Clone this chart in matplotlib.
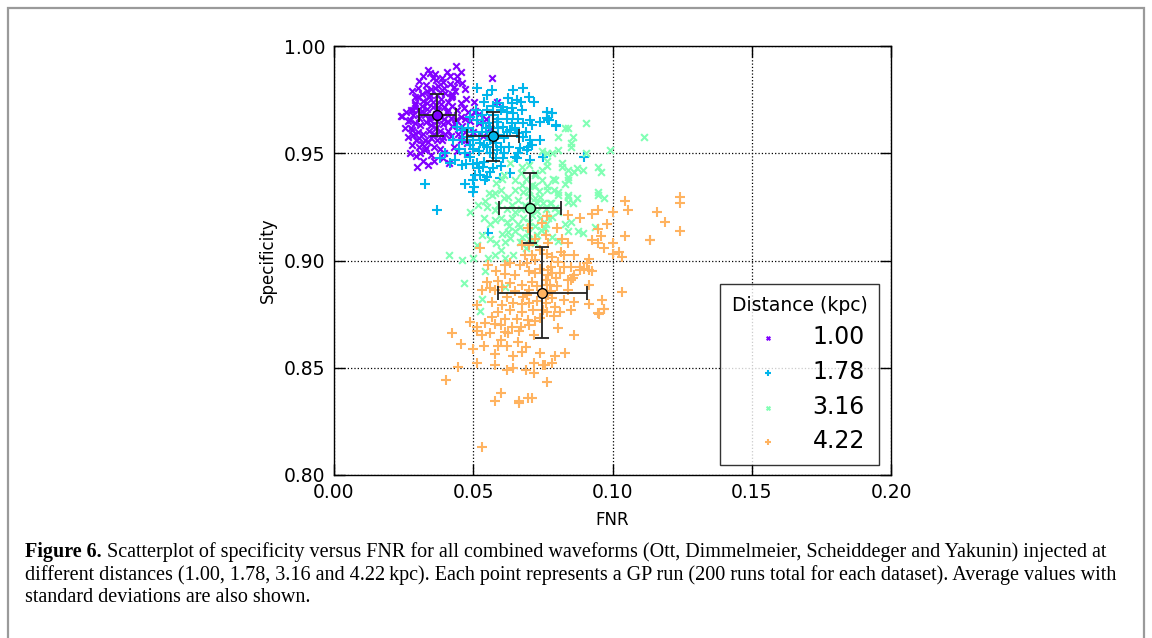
import matplotlib
matplotlib.use("Agg")
import matplotlib.pyplot as plt
from matplotlib.patches import Rectangle
import numpy as np

# ---------------- data (FNR, Specificity) ----------------
distances = ["1.00", "1.78", "3.16", "4.22"]

pts_100 = [
    (0.0339,0.9888),(0.0437,0.9907),(0.0455,0.9881),(0.0363,0.9870),(0.0387,0.9850),(0.0417,0.9861),
    (0.0441,0.9839),(0.0459,0.9826),(0.0307,0.9839),(0.0567,0.9850),(0.0335,0.9792),(0.0315,0.9777),
    (0.0361,0.9803),(0.0433,0.9792),(0.0423,0.9765),(0.0473,0.9752),(0.0501,0.9741),(0.0243,0.9675),
    (0.0273,0.9656),(0.0281,0.9610),(0.0293,0.9563),(0.0265,0.9575),(0.0315,0.9544),(0.0293,0.9486),
    (0.0327,0.9517),(0.0339,0.9551),(0.0387,0.9563),(0.0411,0.9606),(0.0435,0.9637),(0.0459,0.9628),
    (0.0477,0.9547),(0.0297,0.9436),(0.0339,0.9447),(0.0413,0.9455),(0.0477,0.9498),(0.0507,0.9695),
    (0.0519,0.9684),(0.0585,0.9741),(0.0291,0.9733),(0.0285,0.9703),(0.0239,0.9674),(0.0273,0.9500),
    (0.0506,0.9694),(0.0545,0.9660),
    (0.0300,0.9760),(0.0320,0.9745),(0.0340,0.9760),(0.0355,0.9740),(0.0370,0.9770),(0.0385,0.9755),
    (0.0400,0.9780),(0.0410,0.9740),(0.0425,0.9720),(0.0440,0.9700),(0.0395,0.9715),(0.0375,0.9700),
    (0.0355,0.9715),(0.0335,0.9705),(0.0315,0.9720),(0.0300,0.9700),(0.0285,0.9680),(0.0305,0.9665),
    (0.0325,0.9680),(0.0345,0.9670),(0.0365,0.9685),(0.0385,0.9670),(0.0405,0.9690),(0.0420,0.9665),
    (0.0438,0.9655),(0.0455,0.9670),(0.0470,0.9660),(0.0290,0.9640),(0.0310,0.9630),(0.0330,0.9645),
    (0.0350,0.9630),(0.0370,0.9650),(0.0390,0.9635),(0.0410,0.9645),(0.0425,0.9625),(0.0300,0.9600),
    (0.0320,0.9590),(0.0340,0.9605),(0.0360,0.9590),(0.0380,0.9605),(0.0400,0.9590),(0.0275,0.9620),
    (0.0285,0.9585),(0.0305,0.9570),(0.0325,0.9560),(0.0350,0.9570),(0.0370,0.9560),(0.0390,0.9575),
    (0.0420,0.9580),(0.0445,0.9590),(0.0305,0.9530),(0.0280,0.9540),(0.0330,0.9525),(0.0360,0.9530),
    (0.0380,0.9520),(0.0310,0.9500),(0.0350,0.9490),(0.0395,0.9500),(0.0430,0.9530),(0.0280,0.9790),
    (0.0330,0.9820),(0.0350,0.9800),(0.0375,0.9815),(0.0395,0.9805),(0.0415,0.9825),(0.0430,0.9810),
    (0.0355,0.9850),(0.0320,0.9860),(0.0345,0.9875),(0.0405,0.9880),(0.0380,0.9785),(0.0425,0.9775),
    (0.0455,0.9735),(0.0465,0.9710),(0.0480,0.9690),(0.0490,0.9650),(0.0470,0.9600),(0.0455,0.9560),
    (0.0365,0.9620),(0.0345,0.9655),(0.0395,0.9660),(0.0315,0.9695),(0.0365,0.9725),(0.0290,0.9725),
    (0.0275,0.9700),(0.0265,0.9650),(0.0255,0.9620),(0.0260,0.9690),(0.0300,0.9805),(0.0290,0.9760),
    (0.0410,0.9700),(0.0385,0.9730),(0.0335,0.9735),(0.0345,0.9770),(0.0420,0.9760),(0.0390,0.9830),
    (0.0365,0.9840),(0.0440,0.9860),(0.0470,0.9800),(0.0520,0.9640),(0.0500,0.9600),(0.0360,0.9465),
    (0.0390,0.9480),(0.0535,0.9580),(0.0560,0.9620),(0.0440,0.9510),(0.0320,0.9465),
]

pts_178 = [
    (0.0512,0.9803),(0.0569,0.9795),(0.0644,0.9795),(0.0677,0.9803),(0.0548,0.9772),(0.0584,0.9733),
    (0.0626,0.9756),(0.0638,0.9733),(0.0656,0.9748),(0.0701,0.9764),(0.0718,0.9741),(0.0608,0.9717),
    (0.0620,0.9694),(0.0644,0.9686),(0.0674,0.9702),(0.0704,0.9655),(0.0710,0.9632),(0.0740,0.9647),
    (0.0770,0.9655),(0.0782,0.9686),(0.0764,0.9694),(0.0797,0.9632),(0.0488,0.9671),(0.0512,0.9655),
    (0.0536,0.9640),(0.0560,0.9624),(0.0584,0.9647),(0.0608,0.9624),(0.0632,0.9608),(0.0656,0.9593),
    (0.0680,0.9577),(0.0704,0.9562),(0.0698,0.9531),(0.0668,0.9523),(0.0692,0.9515),(0.0650,0.9484),
    (0.0608,0.9476),(0.0584,0.9515),(0.0548,0.9531),(0.0524,0.9546),(0.0500,0.9562),(0.0476,0.9577),
    (0.0458,0.9608),(0.0440,0.9624),(0.0428,0.9562),(0.0398,0.9500),(0.0381,0.9476),(0.0416,0.9453),
    (0.0434,0.9469),(0.0458,0.9445),(0.0488,0.9484),(0.0512,0.9453),(0.0536,0.9437),(0.0560,0.9414),
    (0.0572,0.9430),(0.0548,0.9391),(0.0524,0.9399),(0.0500,0.9375),(0.0503,0.9344),(0.0500,0.9321),
    (0.0542,0.9375),(0.0596,0.9383),(0.0632,0.9406),(0.0656,0.9476),(0.0704,0.9469),(0.0740,0.9562),
    (0.0752,0.9484),(0.0898,0.9484),(0.0327,0.9357),(0.0369,0.9235),(0.0470,0.9357),(0.0554,0.9127),
    (0.0764,0.9694),(0.0784,0.9687),(0.0772,0.9653),(0.0796,0.9628),(0.0764,0.9665),
    (0.0530,0.9600),(0.0550,0.9580),(0.0570,0.9600),(0.0590,0.9585),(0.0610,0.9570),(0.0545,0.9620),
    (0.0520,0.9580),(0.0500,0.9600),(0.0480,0.9620),(0.0560,0.9560),(0.0580,0.9550),(0.0600,0.9530),
    (0.0540,0.9540),(0.0520,0.9510),(0.0560,0.9500),(0.0620,0.9600),(0.0640,0.9640),(0.0590,0.9660),
    (0.0570,0.9680),(0.0550,0.9700),(0.0530,0.9680),(0.0510,0.9700),(0.0620,0.9660),(0.0660,0.9660),
    (0.0680,0.9640),(0.0650,0.9620),(0.0610,0.9500),(0.0630,0.9530),(0.0580,0.9480),(0.0540,0.9460),
    (0.0500,0.9450),(0.0470,0.9500),(0.0490,0.9540),(0.0460,0.9560),(0.0450,0.9520),(0.0520,0.9430),
    (0.0600,0.9440),(0.0660,0.9500),(0.0690,0.9600),(0.0710,0.9540),(0.0570,0.9720),(0.0600,0.9700),
    (0.0640,0.9710),(0.0670,0.9740),(0.0540,0.9740),(0.0500,0.9520),(0.0505,0.9400),(0.0475,0.9450),
    (0.0590,0.9620),(0.0555,0.9640),
]

pts_316 = [
    (0.0905,0.9640),(0.0829,0.9617),(0.0839,0.9617),(0.0806,0.9575),(0.0859,0.9575),(0.0851,0.9550),
    (0.0851,0.9529),(0.0806,0.9513),(0.0764,0.9501),(0.0784,0.9501),(0.0904,0.9501),(0.0992,0.9513),
    (0.1112,0.9575),(0.0817,0.9455),(0.0817,0.9436),(0.0841,0.9423),(0.0871,0.9431),(0.0863,0.9411),
    (0.0895,0.9423),(0.0949,0.9436),(0.0959,0.9411),(0.0788,0.9380),(0.0794,0.9374),(0.0839,0.9390),
    (0.0839,0.9374),(0.0830,0.9358),(0.0764,0.9462),(0.0764,0.9442),(0.0764,0.9349),(0.0764,0.9330),
    (0.0806,0.9318),(0.0839,0.9307),(0.0949,0.9318),
    (0.0806,0.9305),(0.0841,0.9298),(0.0841,0.9274),(0.0871,0.9290),(0.0859,0.9267),(0.0949,0.9305),
    (0.0971,0.9290),(0.0776,0.9267),(0.0794,0.9243),(0.0806,0.9228),(0.0782,0.9204),(0.0829,0.9169),
    (0.0851,0.9181),(0.0839,0.9138),(0.0875,0.9138),(0.0895,0.9127),(0.0937,0.9158),(0.0784,0.9111),
    (0.0806,0.9091),(0.0758,0.9150),
    (0.0488,0.9225),(0.0542,0.9277),(0.0518,0.9259),(0.0578,0.9236),(0.0560,0.9169),(0.0530,0.9119),
    (0.0578,0.9190),(0.0602,0.9122),(0.0614,0.9088),(0.0632,0.9103),(0.0626,0.9131),(0.0650,0.9138),
    (0.0668,0.9158),(0.0674,0.9111),(0.0668,0.9088),(0.0644,0.9026),(0.0614,0.9013),(0.0578,0.9026),
    (0.0552,0.9013),(0.0500,0.9010),(0.0458,0.9003),(0.0413,0.9026),(0.0512,0.9072),(0.0600,0.9050),
    (0.0542,0.8951),(0.0468,0.8894),(0.0614,0.8878),(0.0533,0.8820),(0.0524,0.8764),(0.0650,0.9228),
    (0.0686,0.9259),(0.0722,0.9290),(0.0740,0.9298),(0.0566,0.9305),(0.0626,0.9298),
    (0.0633,0.9455),(0.0675,0.9436),(0.0699,0.9447),(0.0723,0.9408),(0.0747,0.9424),(0.0651,0.9377),
    (0.0675,0.9354),(0.0699,0.9331),(0.0723,0.9346),(0.0747,0.9377),(0.0603,0.9380),(0.0579,0.9315),
    (0.0555,0.9315),(0.0735,0.9323),(0.0747,0.9509),
    (0.0690,0.9250),(0.0710,0.9210),(0.0730,0.9230),(0.0700,0.9180),(0.0680,0.9200),(0.0720,0.9160),
    (0.0740,0.9200),(0.0760,0.9240),(0.0750,0.9270),(0.0700,0.9300),(0.0680,0.9320),(0.0660,0.9280),
    (0.0640,0.9260),(0.0620,0.9240),(0.0640,0.9200),(0.0620,0.9180),(0.0600,0.9200),(0.0590,0.9260),
    (0.0610,0.9290),(0.0650,0.9330),(0.0710,0.9350),(0.0730,0.9270),(0.0770,0.9200),(0.0760,0.9170),
    (0.0730,0.9120),(0.0700,0.9100),(0.0690,0.9060),(0.0720,0.9080),(0.0660,0.9170),(0.0630,0.9160),
    (0.0670,0.9240),(0.0715,0.9260),(0.0695,0.9130),(0.0745,0.9140),(0.0780,0.9270),(0.0790,0.9330),
    (0.0720,0.9400),(0.0690,0.9380),(0.0670,0.9410),(0.0610,0.9400),(0.0580,0.9360),(0.0600,0.9330),
    (0.0550,0.9250),(0.0540,0.9200),(0.0560,0.9100),(0.0580,0.9080),
]

pts_422 = [
    (0.1045,0.9277),(0.1242,0.9298),(0.1242,0.9267),(0.1057,0.9236),(0.1159,0.9225),(0.1189,0.9181),
    (0.1242,0.9138),(0.0949,0.9236),(0.1003,0.9225),(0.0928,0.9215),(0.0883,0.9200),(0.0839,0.9212),
    (0.0764,0.9209),(0.0979,0.9169),(0.0949,0.9147),(0.0959,0.9116),(0.1045,0.9116),(0.1135,0.9095),
    (0.0925,0.9095),(0.0949,0.9080),(0.0971,0.9060),(0.1003,0.9080),(0.0839,0.9080),(0.0770,0.9080),
    (0.1003,0.9029),(0.1023,0.9038),(0.1035,0.9018),(0.0815,0.9038),(0.0827,0.9026),(0.0863,0.9026),
    (0.0764,0.9029),(0.0784,0.9018),(0.0806,0.8995),(0.0914,0.9007),(0.0908,0.8987),(0.0827,0.8971),
    (0.0851,0.8971),(0.0883,0.8971),(0.0883,0.8956),(0.0899,0.8960),(0.0914,0.8956),(0.0928,0.8951),
    (0.0770,0.8956),(0.0784,0.8940),(0.0770,0.8932),(0.0863,0.8932),(0.0796,0.8917),(0.0839,0.8909),
    (0.0851,0.8909),(0.0859,0.8920),(0.0764,0.8886),(0.0776,0.8886),(0.0916,0.8886),(0.0839,0.8863),
    (0.1035,0.8852),(0.0770,0.8839),(0.0784,0.8824),(0.0827,0.8816),(0.0863,0.8805),(0.0961,0.8816),
    (0.0794,0.8785),(0.0916,0.8796),(0.0971,0.8774),(0.0851,0.8769),(0.0764,0.8762),(0.0949,0.8754),
    (0.0806,0.8684),
    (0.0863,0.8653),(0.0794,0.8555),(0.0829,0.8567),(0.0784,0.8521),(0.0764,0.8435),(0.0758,0.8513),
    (0.0524,0.9060),(0.0695,0.9150),(0.0674,0.9072),(0.0746,0.9173),(0.0686,0.9026),(0.0710,0.9026),
    (0.0722,0.9003),(0.0614,0.8979),(0.0632,0.8987),(0.0668,0.8979),(0.0692,0.8987),(0.0554,0.8979),
    (0.0614,0.8935),(0.0650,0.8932),(0.0590,0.8904),(0.0632,0.8897),(0.0674,0.8887),(0.0602,0.8878),
    (0.0533,0.8863),(0.0560,0.8874),(0.0578,0.8863),(0.0700,0.8863),(0.0692,0.8839),(0.0512,0.8793),
    (0.0566,0.8808),(0.0602,0.8793),(0.0644,0.8800),(0.0674,0.8796),(0.0632,0.8769),(0.0674,0.8762),
    (0.0590,0.8762),(0.0716,0.8769),(0.0752,0.8769),(0.0566,0.8738),(0.0614,0.8727),(0.0656,0.8727),
    (0.0698,0.8723),(0.0722,0.8718),(0.0488,0.8712),(0.0512,0.8692),(0.0542,0.8710),(0.0578,0.8705),
    (0.0638,0.8692),
    (0.0425,0.8664),(0.0512,0.8673),(0.0533,0.8653),(0.0614,0.8668),(0.0626,0.8664),(0.0664,0.8673),
    (0.0719,0.8653),(0.0456,0.8611),(0.0500,0.8586),(0.0600,0.8629),(0.0590,0.8601),(0.0578,0.8564),
    (0.0644,0.8555),(0.0676,0.8575),(0.0688,0.8598),(0.0740,0.8567),(0.0512,0.8521),(0.0578,0.8513),
    (0.0719,0.8521),(0.0446,0.8502),(0.0620,0.8490),(0.0644,0.8497),(0.0688,0.8490),(0.0719,0.8477),
    (0.0752,0.8513),(0.0401,0.8443),(0.0600,0.8381),(0.0578,0.8347),(0.0664,0.8347),(0.0664,0.8334),
    (0.0698,0.8357),(0.0710,0.8357),(0.0533,0.8129),
    (0.1135,0.9096),(0.0953,0.8750),(0.0970,0.8773),
    (0.0720,0.8940),(0.0740,0.8960),(0.0760,0.8910),(0.0730,0.8880),(0.0710,0.8900),(0.0750,0.8850),
    (0.0780,0.8860),(0.0800,0.8880),(0.0810,0.8940),(0.0780,0.8970),(0.0740,0.9050),(0.0760,0.9120),
    (0.0720,0.9100),(0.0800,0.9150),(0.0820,0.9100),(0.0700,0.8950),(0.0650,0.8860),(0.0620,0.8830),
    (0.0680,0.8830),(0.0700,0.8800),(0.0730,0.8810),(0.0760,0.8800),(0.0790,0.8740),(0.0810,0.8760),
    (0.0740,0.8730),(0.0700,0.8700),(0.0670,0.8690),(0.0600,0.8700),(0.0560,0.8660),(0.0540,0.8600),
    (0.0620,0.8600),(0.0660,0.8620),(0.0550,0.8900),(0.0580,0.8950),(0.0700,0.9070),
]

# averages and standard deviations
mean_fnr  = [0.0371, 0.0572, 0.0704, 0.0748]
mean_spec = [0.9678, 0.9579, 0.9245, 0.8850]
std_fnr   = [0.0066, 0.0093, 0.0110, 0.0160]
std_spec  = [0.0097, 0.0115, 0.0165, 0.0213]

x_ticks = [0.00, 0.05, 0.10, 0.15, 0.20]
y_ticks = [0.80, 0.85, 0.90, 0.95, 1.00]

caption_bold = "Figure 6."
caption_lines = [
    " Scatterplot of specificity versus FNR for all combined waveforms (Ott, Dimmelmeier, Scheiddeger and Yakunin) injected at",
    "different distances (1.00, 1.78, 3.16 and 4.22\u2009kpc). Each point represents a GP run (200 runs total for each dataset). Average values with",
    "standard deviations are also shown.",
]

# ---------------- plotting ----------------
plt.rcParams['font.family'] = ['DejaVu Sans']
fig = plt.figure(figsize=(11.52, 6.38), dpi=100)
fig.patch.set_facecolor('white')

# figure frame
fig.patches.append(Rectangle((8/1152, -0.05), 1136/1152, 1.05 - 8/638, transform=fig.transFigure,
                             fill=False, edgecolor='#9a9a9a', linewidth=1.6, zorder=0))

ax = fig.add_axes([334/1152, 1 - 475/638, 557/1152, 429/638])

cmap = plt.get_cmap('rainbow')
colors = [cmap(0.0), cmap(0.25), cmap(0.5), cmap(0.75)]
markers = ['x', '+', 'x', '+']
sizes = [22, 45, 24, 45]
series = [pts_100, pts_178, pts_316, pts_422]

for i, pts in enumerate(series):
    xs = [p[0] for p in pts]
    ys = [p[1] for p in pts]
    ax.scatter(xs, ys, marker=markers[i], s=sizes[i], color=colors[i], linewidths=1.5,
               label=distances[i], zorder=2 + i)

for i in range(4):
    ax.errorbar(mean_fnr[i], mean_spec[i], xerr=std_fnr[i], yerr=std_spec[i], fmt='o',
                color='k', ecolor='#222222', elinewidth=1.3, capsize=5, capthick=1.3,
                markerfacecolor=colors[i], markeredgecolor='k', markersize=7, zorder=10)

ax.set_xlim(0.0, 0.2)
ax.set_ylim(0.80, 1.00)
ax.set_xticks(x_ticks)
ax.set_yticks(y_ticks)
ax.set_xticklabels([f"{v:.2f}" for v in x_ticks])
ax.set_yticklabels([f"{v:.2f}" for v in y_ticks])
ax.tick_params(direction='in', length=8, width=1, top=True, right=True, labelsize=13.5, pad=6)
ax.grid(True, linestyle=':', color='k', linewidth=0.9)
for s in ax.spines.values():
    s.set_linewidth(1.0)

ax.set_xlabel("FNR", fontsize=12, labelpad=6)
ax.set_ylabel("Specificity", fontsize=12, labelpad=5)

leg = ax.legend(title="Distance (kpc)", loc='lower right', bbox_to_anchor=(0.979, 0.023),
                borderaxespad=0, fontsize=17, title_fontsize=13.5, scatterpoints=1,
                markerscale=0.55, handletextpad=0.5, handlelength=2.8, labelspacing=0.45,
                fancybox=False, frameon=True, borderpad=0.5)
leg.get_frame().set_edgecolor('k')
leg.get_frame().set_linewidth(1.0)

# caption
cap_fs = 14.5
ys_cap = [1 - 552/638, 1 - 575/638, 1 - 598/638]
t = fig.text(25/1152, ys_cap[0], caption_bold, fontsize=cap_fs, fontweight='bold',
             family=['Liberation Serif'], va='center', ha='left')
fig.canvas.draw()
bb = t.get_window_extent()
fig.text(bb.x1 / 1152, ys_cap[0], caption_lines[0], fontsize=cap_fs, family=['Liberation Serif'],
         va='center', ha='left')
for line, yc in zip(caption_lines[1:], ys_cap[1:]):
    fig.text(25/1152, yc, line, fontsize=cap_fs, family=['Liberation Serif'], va='center', ha='left')

fig.savefig("out.png", dpi=100, facecolor='white')
